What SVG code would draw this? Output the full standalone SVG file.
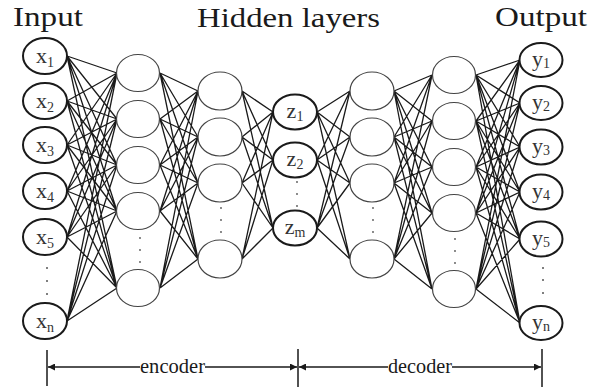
<svg xmlns="http://www.w3.org/2000/svg" width="592" height="387" viewBox="0 0 592 387">
<style>
.title{font-family:"Liberation Serif","Times New Roman",serif;font-size:27px;fill:#1a1a1a}
.lbl{font-family:"Liberation Serif","Times New Roman",serif;font-size:22px;fill:#333;text-anchor:middle}
.sub{font-size:14px}
.io{fill:#fff;stroke:#1a1a1a;stroke-width:2}
.hid{fill:#fff;stroke:#444;stroke-width:1.2}
.conn{fill:none;stroke:#1a1a1a;stroke-width:1.3}
.dot{fill:#555}
.axis{stroke:#1a1a1a;stroke-width:1.5;fill:none}
.small{font-family:"Liberation Serif","Times New Roman",serif;font-size:21px;fill:#1a1a1a}
</style>
<defs>
<marker id="arr" viewBox="0 0 10 10" refX="10" refY="5" markerWidth="10" markerHeight="7" markerUnits="userSpaceOnUse" orient="auto">
<path d="M0,0 L10,5 L0,10 z" fill="#1a1a1a"/>
</marker>
</defs>
<rect width="592" height="387" fill="#fff"/>
<text class="title" x="13" y="26" textLength="70" lengthAdjust="spacingAndGlyphs">Input</text>
<text class="title" x="197" y="27" textLength="183" lengthAdjust="spacingAndGlyphs">Hidden layers</text>
<text class="title" x="495" y="26" textLength="92" lengthAdjust="spacingAndGlyphs">Output</text>
<g id="connectors" class="conn">
<path d="M67,56 L117,73 M67,56 L117,119 M67,56 L117,165 M67,56 L117,211 M67,56 L117,288
M67,101 L117,73 M67,101 L117,119 M67,101 L117,165 M67,101 L117,211 M67,101 L117,288
M67,145 L117,73 M67,145 L117,119 M67,145 L117,165 M67,145 L117,211 M67,145 L117,288
M67,191 L117,73 M67,191 L117,119 M67,191 L117,165 M67,191 L117,211 M67,191 L117,288
M67,237 L117,73 M67,237 L117,119 M67,237 L117,165 M67,237 L117,211 M67,237 L117,288
M67,321 L117,73 M67,321 L117,119 M67,321 L117,165 M67,321 L117,211 M67,321 L117,288"/>
<path d="M160,73 L198,91 M160,73 L198,137 M160,73 L198,183 M160,73 L198,259
M160,119 L198,91 M160,119 L198,137 M160,119 L198,183 M160,119 L198,259
M160,165 L198,91 M160,165 L198,137 M160,165 L198,183 M160,165 L198,259
M160,211 L198,91 M160,211 L198,137 M160,211 L198,183 M160,211 L198,259
M160,288 L198,91 M160,288 L198,137 M160,288 L198,183 M160,288 L198,259"/>
<path d="M242,91 L273,112 M242,91 L273,160 M242,91 L273,228
M242,137 L273,112 M242,137 L273,160 M242,137 L273,228
M242,183 L273,112 M242,183 L273,160 M242,183 L273,228
M242,259 L273,112 M242,259 L273,160 M242,259 L273,228"/>
<path d="M317,112 L350,91 M317,112 L350,137 M317,112 L350,183 M317,112 L350,259
M317,160 L350,91 M317,160 L350,137 M317,160 L350,183 M317,160 L350,259
M317,228 L350,91 M317,228 L350,137 M317,228 L350,183 M317,228 L350,259"/>
<path d="M394,91 L432,75 M394,91 L432,121 M394,91 L432,167 M394,91 L432,213 M394,91 L432,289
M394,137 L432,75 M394,137 L432,121 M394,137 L432,167 M394,137 L432,213 M394,137 L432,289
M394,183 L432,75 M394,183 L432,121 M394,183 L432,167 M394,183 L432,213 M394,183 L432,289
M394,259 L432,75 M394,259 L432,121 M394,259 L432,167 M394,259 L432,213 M394,259 L432,289"/>
<path d="M476,75 L520,60 M476,75 L520,103 M476,75 L520,147 M476,75 L520,192 M476,75 L520,239 M476,75 L520,323
M476,121 L520,60 M476,121 L520,103 M476,121 L520,147 M476,121 L520,192 M476,121 L520,239 M476,121 L520,323
M476,167 L520,60 M476,167 L520,103 M476,167 L520,147 M476,167 L520,192 M476,167 L520,239 M476,167 L520,323
M476,213 L520,60 M476,213 L520,103 M476,213 L520,147 M476,213 L520,192 M476,213 L520,239 M476,213 L520,323
M476,289 L520,60 M476,289 L520,103 M476,289 L520,147 M476,289 L520,192 M476,289 L520,239 M476,289 L520,323"/>
</g>
<g id="input-layer">
<g id="x1"><ellipse class="io" cx="45" cy="56" rx="22" ry="18"/><text class="lbl" x="45" y="63">x<tspan class="sub" dy="4">1</tspan></text></g>
<g id="x2"><ellipse class="io" cx="45" cy="101" rx="22" ry="18"/><text class="lbl" x="45" y="108">x<tspan class="sub" dy="4">2</tspan></text></g>
<g id="x3"><ellipse class="io" cx="45" cy="145" rx="22" ry="18"/><text class="lbl" x="45" y="152">x<tspan class="sub" dy="4">3</tspan></text></g>
<g id="x4"><ellipse class="io" cx="45" cy="191" rx="22" ry="18"/><text class="lbl" x="45" y="198">x<tspan class="sub" dy="4">4</tspan></text></g>
<g id="x5"><ellipse class="io" cx="45" cy="237" rx="22" ry="18"/><text class="lbl" x="45" y="244">x<tspan class="sub" dy="4">5</tspan></text></g>
<g id="xdots"><circle class="dot" cx="47" cy="268" r="1"/><circle class="dot" cx="47" cy="281" r="1"/><circle class="dot" cx="47" cy="294" r="1"/></g>
<g id="xn"><ellipse class="io" cx="45" cy="321" rx="22" ry="18"/><text class="lbl" x="45" y="328">x<tspan class="sub" dy="4">n</tspan></text></g>
</g>
<g id="hidden1">
<g id="h1-1"><ellipse class="hid" cx="138" cy="73" rx="21.5" ry="18.5"/></g>
<g id="h1-2"><ellipse class="hid" cx="138" cy="119" rx="21.5" ry="18.5"/></g>
<g id="h1-3"><ellipse class="hid" cx="138" cy="165" rx="21.5" ry="18.5"/></g>
<g id="h1-4"><ellipse class="hid" cx="138" cy="211" rx="21.5" ry="18.5"/></g>
<g id="h1-dots"><circle class="dot" cx="140" cy="238" r="0.9"/><circle class="dot" cx="140" cy="250" r="0.9"/><circle class="dot" cx="140" cy="262" r="0.9"/></g>
<g id="h1-5"><ellipse class="hid" cx="138" cy="288" rx="21.5" ry="18.5"/></g>
</g>
<g id="hidden2">
<g id="h2-1"><ellipse class="hid" cx="220" cy="91" rx="22" ry="19"/></g>
<g id="h2-2"><ellipse class="hid" cx="220" cy="137" rx="22" ry="19"/></g>
<g id="h2-3"><ellipse class="hid" cx="220" cy="183" rx="22" ry="19"/></g>
<g id="h2-dots"><circle class="dot" cx="221" cy="208" r="0.9"/><circle class="dot" cx="221" cy="220" r="0.9"/><circle class="dot" cx="221" cy="232" r="0.9"/></g>
<g id="h2-4"><ellipse class="hid" cx="220" cy="259" rx="22" ry="19"/></g>
</g>
<g id="code-layer">
<g id="z1"><ellipse class="io" cx="295" cy="112" rx="22" ry="17.5"/><text class="lbl" x="295" y="118">z<tspan class="sub" dy="3">1</tspan></text></g>
<g id="z2"><ellipse class="io" cx="295" cy="160" rx="22" ry="17.5"/><text class="lbl" x="295" y="166">z<tspan class="sub" dy="3">2</tspan></text></g>
<g id="zdots"><circle class="dot" cx="297" cy="182" r="0.9"/><circle class="dot" cx="297" cy="194" r="0.9"/><circle class="dot" cx="297" cy="206" r="0.9"/></g>
<g id="zm"><ellipse class="io" cx="295" cy="228" rx="22" ry="17.5"/><text class="lbl" x="295" y="234">z<tspan class="sub" dy="3">m</tspan></text></g>
</g>
<g id="hidden3">
<g id="h3-1"><ellipse class="hid" cx="372" cy="91" rx="22" ry="19"/></g>
<g id="h3-2"><ellipse class="hid" cx="372" cy="137" rx="22" ry="19"/></g>
<g id="h3-3"><ellipse class="hid" cx="372" cy="183" rx="22" ry="19"/></g>
<g id="h3-dots"><circle class="dot" cx="373" cy="208" r="0.9"/><circle class="dot" cx="373" cy="220" r="0.9"/><circle class="dot" cx="373" cy="232" r="0.9"/></g>
<g id="h3-4"><ellipse class="hid" cx="372" cy="259" rx="22" ry="19"/></g>
</g>
<g id="hidden4">
<g id="h4-1"><ellipse class="hid" cx="454" cy="75" rx="21.5" ry="18.5"/></g>
<g id="h4-2"><ellipse class="hid" cx="454" cy="121" rx="21.5" ry="18.5"/></g>
<g id="h4-3"><ellipse class="hid" cx="454" cy="167" rx="21.5" ry="18.5"/></g>
<g id="h4-4"><ellipse class="hid" cx="454" cy="213" rx="21.5" ry="18.5"/></g>
<g id="h4-dots"><circle class="dot" cx="455" cy="239" r="0.9"/><circle class="dot" cx="455" cy="251" r="0.9"/><circle class="dot" cx="455" cy="263" r="0.9"/></g>
<g id="h4-5"><ellipse class="hid" cx="454" cy="289" rx="21.5" ry="18.5"/></g>
</g>
<g id="output-layer">
<g id="y1"><ellipse class="io" cx="541" cy="60" rx="21.5" ry="17"/><text class="lbl" x="541" y="66">y<tspan class="sub" dy="2">1</tspan></text></g>
<g id="y2"><ellipse class="io" cx="541" cy="103" rx="21.5" ry="17"/><text class="lbl" x="541" y="109">y<tspan class="sub" dy="2">2</tspan></text></g>
<g id="y3"><ellipse class="io" cx="541" cy="147" rx="21.5" ry="17.5"/><text class="lbl" x="541" y="153">y<tspan class="sub" dy="2">3</tspan></text></g>
<g id="y4"><ellipse class="io" cx="541" cy="192" rx="21.5" ry="17.5"/><text class="lbl" x="541" y="198">y<tspan class="sub" dy="2">4</tspan></text></g>
<g id="y5"><ellipse class="io" cx="541" cy="239" rx="21.5" ry="17.5"/><text class="lbl" x="541" y="245">y<tspan class="sub" dy="2">5</tspan></text></g>
<g id="ydots"><circle class="dot" cx="543" cy="268" r="1"/><circle class="dot" cx="543" cy="280" r="1"/><circle class="dot" cx="543" cy="293" r="1"/></g>
<g id="yn"><ellipse class="io" cx="541" cy="323" rx="21.5" ry="17"/><text class="lbl" x="541" y="329">y<tspan class="sub" dy="2">n</tspan></text></g>
</g>
<g id="span-axis">
<path class="axis" d="M47,350 L47,386 M298,349 L298,387 M542,349 L542,387"/>
<path class="axis" d="M140,367 L48,367" marker-end="url(#arr)"/>
<path class="axis" d="M205,367 L297,367" marker-end="url(#arr)"/>
<path class="axis" d="M388,367 L299,367" marker-end="url(#arr)"/>
<path class="axis" d="M452,367 L541,367" marker-end="url(#arr)"/>
<text class="small" x="140" y="373" textLength="65" lengthAdjust="spacingAndGlyphs">encoder</text>
<text class="small" x="388" y="373" textLength="64" lengthAdjust="spacingAndGlyphs">decoder</text>
</g>
</svg>
